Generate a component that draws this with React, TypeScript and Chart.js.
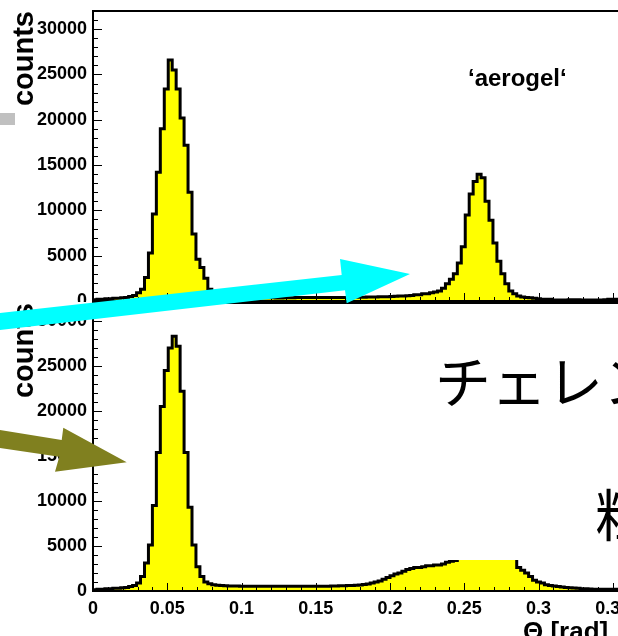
import React, { useEffect, useRef } from "react";
import { Chart, registerables } from "chart.js";

Chart.register(...registerables);

// ---------------- data ----------------
const THETA_MIN = 0;
const THETA_MAX = 0.4;
const BIN_COUNT = 150;
const BIN_WIDTH = (THETA_MAX - THETA_MIN) / BIN_COUNT;

// upper panel: 'aerogel' run, counts per bin
const aerogelCounts: number[] = [
  150, 200, 200, 250, 250, 300, 300, 350, 400, 500, 600, 900,
  1300, 2600, 5300, 9600, 14200, 19000, 23400, 26600, 25500, 23400, 20200, 17200,
  12000, 7400, 4600, 3700, 2500, 1300, 800, 650, 550, 500,
  450, 420, 400, 380, 370, 360, 350, 350, 350,
  350, 350, 350, 340, 340, 350, 350, 360, 380, 400,
  400, 400, 390, 390, 380, 380, 380, 390, 390, 400,
  400, 400, 410, 410, 420, 420, 430, 440, 450, 460,
  470, 480, 500, 520, 540, 560, 580,
  600, 700, 700, 800, 800, 900, 1000, 1100, 1400, 1900,
  2400, 3000, 4200, 6000, 9500, 11800, 13200, 14000, 13600, 11000,
  8900, 6400, 4400, 3000, 1900, 1100, 800, 550,
  450, 400, 350, 300, 250, 200, 200, 200,
  120, 100, 100, 120, 150, 150, 150, 120, 100, 100, 100, 100,
  120, 150, 180, 200, 200, 200, 200, 200, 200, 200, 200, 200, 200, 200, 200, 200,
  200, 200, 200, 200, 200, 200,
];

// lower panel: counts per bin
const lowerCounts: number[] = [
  150, 200, 200, 250, 250, 300, 300, 350, 400, 500, 600, 900,
  1600, 3100, 5100, 9500, 15400, 20500, 24500, 27000, 28300, 27200, 22200, 15400,
  9300, 5100, 2700, 1600, 1000, 800, 700, 650, 600, 580,
  560, 550, 550, 540, 540, 540, 530, 530, 530, 520,
  520, 520, 520, 520, 520, 520, 520, 520, 520, 520,
  520, 520, 530, 530, 540, 540, 550, 560, 570, 580,
  600, 620, 650, 680, 720, 780,
  900, 1000, 1100, 1300, 1500, 1700, 1900, 2000, 2200, 2400,
  2500, 2600, 2600, 2700, 2800, 2800, 2900, 2900, 3000, 3200, 3300, 3400, 3600,
  3800, 4000, 4200, 4400, 4600, 4700, 4800, 4800, 4700, 4600, 4400, 4100, 3800, 3600,
  2600, 2300, 2000, 1600, 1200, 1000, 900, 700, 600, 550, 500, 450, 400, 350, 320, 300,
  250, 250, 220, 200, 200, 200, 200, 200, 200, 200, 200, 200, 200, 200, 200, 200,
  200, 200, 200, 200, 200, 200, 200, 200, 200, 200, 200,
];

const Y_MAX = 32000;
const Y_TICKS = [0, 5000, 10000, 15000, 20000, 25000, 30000];
const Y_TICK_LABELS = ["0", "5000", "10000", "15000", "20000", "25000", "30000"];
const X_TICKS = [0, 0.05, 0.1, 0.15, 0.2, 0.25, 0.3, 0.35, 0.4];
const X_TICK_LABELS = ["0", "0.05", "0.1", "0.15", "0.2", "0.25", "0.3", "0.35", "0.4"];
const Y_MINOR_STEP = 1000;
const X_MINOR_STEP = 0.01;

const yAxisTitle = "counts";
const xAxisTitle = "Θ [rad]";
const aerogelLabel = "‘aerogel‘";
const noteLine1 = "チェレン";
const noteLine2 = "粒";

const FONT = "'Liberation Sans', Arial, Helvetica, sans-serif";

// --------------- plugins ---------------
const rootFrame = {
  id: "rootFrame",
  afterDatasetsDraw(chart: any) {
    const { ctx, chartArea: a, scales } = chart;
    const xs = scales.x;
    const ys = scales.y;
    ctx.save();
    ctx.strokeStyle = "#000";
    ctx.lineWidth = 1;
    const nY = Math.round(Y_MAX / Y_MINOR_STEP);
    for (let i = 0; i <= nY; i++) {
      const v = i * Y_MINOR_STEP;
      const py = Math.round(ys.getPixelForValue(v)) + 0.5;
      const len = Y_TICKS.includes(v) ? 9 : 5;
      ctx.beginPath();
      ctx.moveTo(a.left, py);
      ctx.lineTo(a.left + len, py);
      ctx.stroke();
    }
    const nX = Math.round((THETA_MAX - THETA_MIN) / X_MINOR_STEP);
    for (let i = 0; i <= nX; i++) {
      const v = THETA_MIN + i * X_MINOR_STEP;
      const px = Math.round(xs.getPixelForValue(v)) + 0.5;
      const len = i % 5 === 0 ? 8 : 4;
      ctx.beginPath();
      ctx.moveTo(px, a.bottom);
      ctx.lineTo(px, a.bottom - len);
      ctx.stroke();
    }
    ctx.lineWidth = 2;
    ctx.strokeRect(a.left, a.top, a.right - a.left, a.bottom - a.top);
    ctx.restore();
  },
};

function buildChart(
  canvas: HTMLCanvasElement,
  counts: number[],
  padTop: number,
  xHeight: number,
  showX: boolean
) {
  const points = counts.map((c, i) => ({ x: THETA_MIN + i * BIN_WIDTH, y: c }));
  points.push({
    x: THETA_MIN + counts.length * BIN_WIDTH,
    y: counts[counts.length - 1],
  });
  const tickFont = { family: FONT, size: 18, weight: "bold" as const };
  return new Chart(canvas, {
    type: "line",
    data: {
      datasets: [
        {
          data: points,
          stepped: "before",
          borderColor: "#000",
          borderWidth: 3,
          backgroundColor: "#ffff00",
          fill: "origin",
          pointRadius: 0,
          borderJoinStyle: "miter",
          borderCapStyle: "butt",
        } as any,
      ],
    },
    options: {
      animation: false,
      responsive: false,
      maintainAspectRatio: false,
      events: [],
      layout: { padding: { top: padTop, right: 13, bottom: 0, left: 0 } },
      plugins: { legend: { display: false }, tooltip: { enabled: false } },
      scales: {
        x: {
          type: "linear",
          min: THETA_MIN,
          max: THETA_MAX,
          grid: { display: false, drawTicks: false },
          border: { display: false },
          afterBuildTicks: (s: any) => {
            s.ticks = X_TICKS.map((v) => ({ value: v }));
          },
          ticks: {
            display: showX,
            autoSkip: false,
            maxRotation: 0,
            padding: 7,
            color: "#000",
            font: tickFont,
            callback: (_v: any, i: number) => X_TICK_LABELS[i],
          },
          afterFit: (s: any) => {
            s.height = xHeight;
            s.paddingLeft = 0;
            s.paddingRight = 0;
          },
        },
        y: {
          type: "linear",
          min: 0,
          max: Y_MAX,
          grid: { display: false, drawTicks: false },
          border: { display: false },
          afterBuildTicks: (s: any) => {
            s.ticks = Y_TICKS.map((v) => ({ value: v }));
          },
          ticks: {
            autoSkip: false,
            padding: 6,
            color: "#000",
            font: tickFont,
            callback: (_v: any, i: number) => Y_TICK_LABELS[i],
          },
          title: {
            display: true,
            text: yAxisTitle,
            align: "end",
            color: "#000",
            font: { family: FONT, size: 29, weight: "bold" },
            padding: { top: 8, bottom: 0 },
          },
          afterFit: (s: any) => {
            s.width = 93;
            s.paddingTop = 0;
            s.paddingBottom = 0;
          },
        },
      },
    } as any,
    plugins: [rootFrame],
  });
}

export default function App() {
  const topRef = useRef<HTMLCanvasElement>(null);
  const botRef = useRef<HTMLCanvasElement>(null);

  useEffect(() => {
    const c1 = buildChart(topRef.current!, aerogelCounts, 11, 1, false);
    const c2 = buildChart(botRef.current!, lowerCounts, 1, 51, true);
    return () => {
      c1.destroy();
      c2.destroy();
    };
  }, []);

  return (
    <div
      style={{
        position: "absolute",
        left: 0,
        top: 0,
        width: 618,
        height: 636,
        overflow: "hidden",
        background: "#fff",
      }}
    >
      <canvas
        ref={topRef}
        width={700}
        height={302}
        style={{ position: "absolute", left: 0, top: 0, zIndex: 1, background: "#fff" }}
      />
      <canvas
        ref={botRef}
        width={700}
        height={340}
        style={{ position: "absolute", left: 0, top: 302, zIndex: 2, background: "#fff" }}
      />
      <svg
        width={618}
        height={636}
        style={{ position: "absolute", left: 0, top: 0, zIndex: 3 }}
      >
        <rect x={430} y={335} width={188} height={225} fill="#fff" />
        <rect x={0} y={113} width={15} height={12} fill="#c0c0c0" />
        <text x={468} y={86} fontFamily={FONT} fontWeight="bold" fontSize={24} fill="#000">
          {aerogelLabel}
        </text>
        <text x={435} y={403} fontFamily="'Noto Sans CJK JP', sans-serif" fontSize={56} fill="#000">
          {noteLine1}
        </text>
        <text x={595} y={536} fontFamily="'Noto Sans CJK JP', sans-serif" fontSize={56} fill="#000">
          {noteLine2}
        </text>
        <text x={523} y={640} fontFamily={FONT} fontWeight="bold" fontSize={26} fill="#000">
          {xAxisTitle}
        </text>
        <polygon
          points="-5,313.6 341.7,275 340,259 410,274 346.7,303.3 345,290.2 -5,330.6"
          fill="#00ffff"
        />
        <polygon
          points="-5,429.2 61.7,440 63.3,427.7 126.7,462.3 55,471.7 59.3,456.7 -5,447.2"
          fill="#80801f"
        />
      </svg>
    </div>
  );
}
